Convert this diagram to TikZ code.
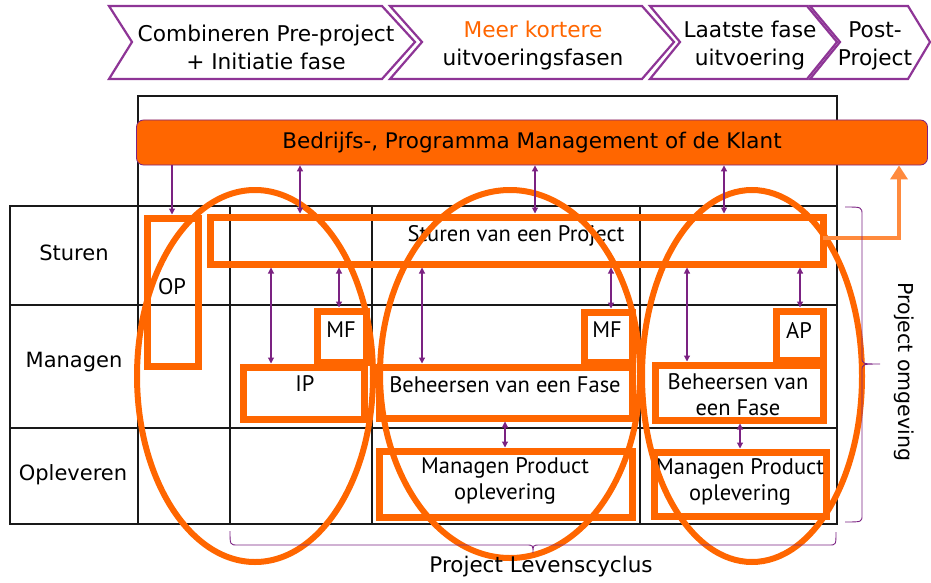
\documentclass[tikz,border=0pt]{standalone}
\usepackage{fontspec}
\setmainfont{DejaVu Sans}
\newfontfamily\cellfont{PT Sans}
\usetikzlibrary{arrows.meta,calc}
\definecolor{org}{HTML}{FF6600}
\definecolor{orgarrow}{HTML}{FF8A3D}
\definecolor{pur}{HTML}{7B2282}
\definecolor{chev}{HTML}{8E3596}
\begin{document}
\begin{tikzpicture}[x=1pt,y=-1pt,
 gridline/.style={line width=1.5pt, black!90},
 chevron/.style={draw=chev, line width=2.2pt, fill=white, line join=miter},
 hdr/.style={font=\fontsize{21.7}{28}\selectfont, align=center, inner sep=0},
 rowlab/.style={font=\fontsize{21}{25}\selectfont, inner sep=0},
 obox/.style={draw=org, line width=7pt, inner sep=0},
 ctext/.style={font=\cellfont\fontsize{22.5}{26}\selectfont, align=center, inner sep=0},
 link/.style={draw=pur, line width=1.1pt, {Triangle[length=6pt,width=6pt]}-{Triangle[length=6pt,width=6pt]}},
 oneway/.style={draw=pur, line width=1.1pt, -{Triangle[length=6pt,width=6pt]}},
 oval/.style={draw=org, line width=6pt},
 brace/.style={draw=pur, line width=0.9pt},
]
\useasboundingbox (0,0) rectangle (931,583);

% header chevrons
\draw[chevron] (109,6) -- (382,6) -- (415,42) -- (382,79) -- (109,79) -- (132,42) -- cycle;
\draw[chevron] (390,6) -- (642,6) -- (674,42) -- (642,79) -- (390,79) -- (422,42) -- cycle;
\draw[chevron] (650,6) -- (807,6) -- (837,42) -- (807,79) -- (650,79) -- (680,42) -- cycle;
\draw[chevron] (810,6) -- (908,6) -- (930,42) -- (908,79) -- (810,79) -- (840,42) -- cycle;
\node[hdr] (h1) at (266,47) {Combineren Pre-project\\+ Initiatie fase};
\node[hdr] (h2) at (533,46) {\textcolor{org}{Meer kortere}\\uitvoeringsfasen};
\node[hdr] (h3) at (750,46) {Laatste fase\\uitvoering};
\node[hdr] (h4) at (875,46) {Post-\\Project};

% grid
\draw[gridline] (138,206) -- (138,96) -- (837,96) -- (837,524);
\draw[gridline] (10,206) rectangle (837,524);
\draw[gridline] (10,305) -- (837,305);
\draw[gridline] (10,428) -- (837,428);
\foreach \gx in {138,230,372,640} \draw[gridline] (\gx,206) -- (\gx,524);

\node[rowlab] (r1) at (74,253) {Sturen};
\node[rowlab] (r2) at (74,362) {Managen};
\node[rowlab] (r3) at (73,475) {Opleveren};

% banner
\node[draw=pur, fill=org, rounded corners=7pt, line width=0.8pt, minimum width=791pt,
      minimum height=45pt, inner sep=0, font=\fontsize{21.5}{25}\selectfont] (banner) at (532,142.5)
      {Bedrijfs-, Programma Management of de Klant};

% boxes
\node[obox, minimum width=613pt, minimum height=47pt] (sp) at (516.5,240.5) {};
\node[obox, minimum width=51pt, minimum height=148pt] (op) at (172.5,292) {};
\node[obox, minimum width=49pt, minimum height=51pt] (mf1) at (341.5,336.5) {};
\node[obox, minimum width=121pt, minimum height=52pt] (ip) at (303.5,393) {};
\node[obox, minimum width=48pt, minimum height=50pt] (mf2) at (608,337) {};
\node[obox, minimum width=253pt, minimum height=51pt] (bf1) at (505.5,392.5) {};
\node[obox, minimum width=47pt, minimum height=49pt] (ap) at (799.5,335.5) {};
\node[obox, minimum width=168pt, minimum height=55pt] (bf2) at (739,392.5) {};
\node[obox, minimum width=253pt, minimum height=66pt] (mp1) at (505.5,484) {};
\node[obox, minimum width=172pt, minimum height=64pt] (mp2) at (740,484) {};

% texts
\node[ctext] (spt) at (516,236) {Sturen van een Project};
\node[ctext] (opt) at (172,287) {OP};
\node[ctext] (mf1t) at (341,330) {MF};
\node[ctext] (ipt) at (305,384) {IP};
\node[ctext] (mf2t) at (607,330) {MF};
\node[ctext] (bf1t) at (505,385) {Beheersen van een Fase};
\node[ctext] (apt) at (799,330) {AP};
\node[ctext] (bf2t) at (738,395) {Beheersen van\\een Fase};
\node[ctext] (mp1t) at (505,481) {Managen Product\\oplevering};
\node[ctext] (mp2t) at (740,482) {Managen Product\\oplevering};

% ellipses
\draw[oval] (255,376) ellipse [x radius=118, y radius=186];
\draw[oval] (510,374) ellipse [x radius=130, y radius=184];
\draw[oval] (752,376) ellipse [x radius=110, y radius=186];

% purple connectors
\foreach \cx in {172,300,535,724,271,339,422,611,687,800,505,740,899} \coordinate (c\cx) at (\cx,0);
\draw[oneway] (banner.south -| c172) -- (op.north -| c172);
\draw[link] (banner.south -| c300) -- (sp.north -| c300);
\draw[link] (banner.south -| c535) -- (sp.north -| c535);
\draw[link] (banner.south -| c724) -- (sp.north -| c724);
\draw[link] (sp.south -| c271) -- (ip.north -| c271);
\draw[link] (sp.south -| c339) -- (mf1.north -| c339);
\draw[link] (sp.south -| c422) -- (bf1.north -| c422);
\draw[link] (sp.south -| c611) -- (mf2.north -| c611);
\draw[link] (sp.south -| c687) -- (bf2.north -| c687);
\draw[link] (sp.south -| c800) -- (ap.north -| c800);
\draw[link] (bf1.south -| c505) -- (mp1.north -| c505);
\draw[link] (bf2.south -| c740) -- (mp2.north -| c740);

% orange feedback arrow
\draw[draw=orgarrow, line width=4pt, -{Triangle[length=14pt,width=17pt]}]
  ($(sp.east)+(-4,-3)$) -| (banner.south -| c899);

% braces
\draw[brace] (845,207) .. controls (862,207) .. (862,215) -- (862,357)
  .. controls (862,364) .. (880,364) .. controls (862,364) .. (862,371) -- (862,515)
  .. controls (862,522) .. (845,522);
\node[rotate=-90, font=\fontsize{20.5}{24}\selectfont, inner sep=0] (po) at (904,372) {Project omgeving};
\draw[brace] (230,531) .. controls (230,545) .. (238,545) -- (526,545)
  .. controls (533,545) .. (533,553) .. controls (533,545) .. (540,545) -- (829,545)
  .. controls (836,545) .. (836,532);
\node[font=\fontsize{21.5}{24}\selectfont, inner sep=0] (pl) at (541,567) {Project Levenscyclus};
\end{tikzpicture}
\end{document}
